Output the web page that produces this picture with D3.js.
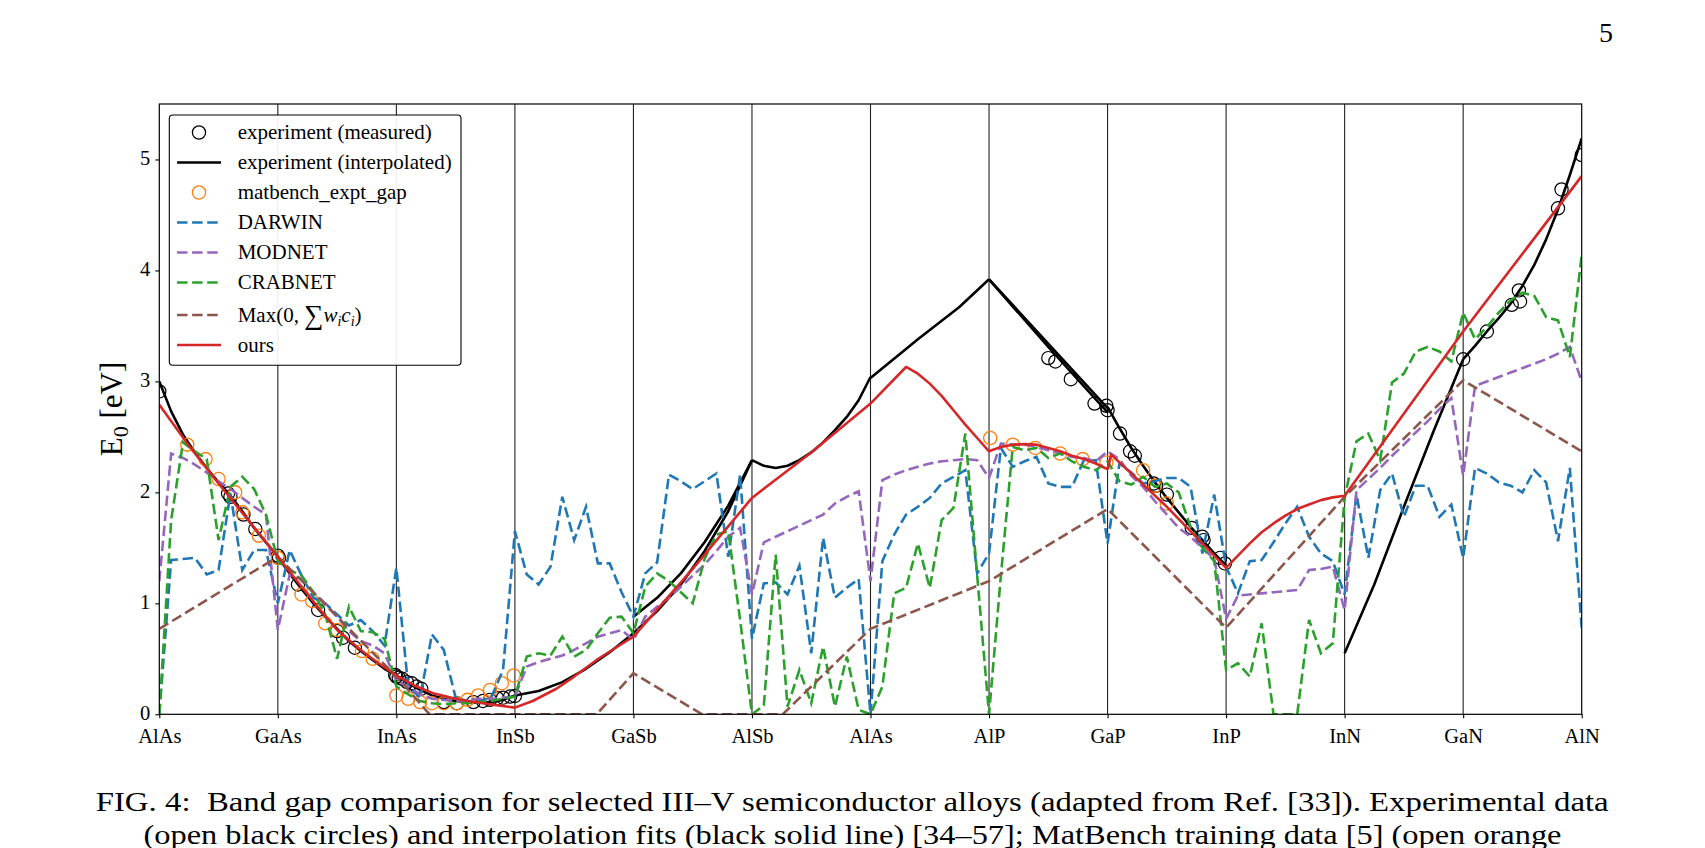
<!DOCTYPE html>
<html>
<head>
<meta charset="utf-8">
<script src="https://cdn.jsdelivr.net/npm/d3@7"></script>
<style>
  body { margin: 0; background: #fff; }
  svg { display: block; font-family: "Liberation Serif", "Times New Roman", serif; }
</style>
</head>
<body>
<svg id="chart" width="1705" height="848"></svg>
<script>
var compounds = ['AlAs', 'GaAs', 'InAs', 'InSb', 'GaSb', 'AlSb', 'AlAs', 'AlP', 'GaP', 'InP', 'InN', 'GaN', 'AlN']
var yTicks = [0, 1, 2, 3, 4, 5]
// model predictions sampled every 0.1 of a composition segment
var step = 0.1
var darwin = [
  0.00, 1.39, 1.40, 1.41, 1.26, 1.30, 1.99, 1.30, 1.48, 1.48,
  1.00, 1.48, 1.25, 1.05, 1.00, 0.90, 0.80, 0.85, 0.75, 0.62,
  1.32, 0.25, 0.15, 0.72, 0.58, 0.15, 0.12, 0.12, 0.15, 0.40,
  1.65, 1.26, 1.17, 1.33, 1.96, 1.57, 1.87, 1.36, 1.36, 1.10,
  0.88, 1.27, 1.37, 2.16, 2.10, 2.03, 2.10, 2.17, 1.42, 2.16,
  0.68, 1.18, 1.19, 1.08, 1.34, 0.55, 1.59, 1.05, 1.14, 1.22,
  0.00, 1.38, 1.62, 1.80, 1.87, 1.95, 2.08, 2.14, 2.20, 1.27,
  1.45, 2.40, 2.23, 2.28, 2.32, 2.08, 2.05, 2.05, 2.29, 2.29,
  1.54, 2.26, 2.18, 2.08, 2.10, 2.13, 2.13, 2.05, 1.45, 1.98,
  1.33, 1.09, 1.38, 1.39, 1.55, 1.72, 1.87, 1.60, 1.45, 1.38,
  1.08, 1.98, 1.41, 2.02, 2.17, 1.78, 2.06, 2.06, 1.78, 1.89,
  1.41, 2.22, 2.17, 2.09, 2.06, 2.00, 2.20, 2.09, 1.56, 2.22,
  0.78
]
var modnet = [
  1.20, 2.35, 2.31, 2.25, 2.18, 2.10, 2.03, 1.95, 1.87, 1.80,
  0.76, 1.26, 1.22, 1.10, 1.00, 0.88, 0.75, 0.66, 0.62, 0.55,
  0.30, 0.25, 0.18, 0.14, 0.13, 0.12, 0.13, 0.14, 0.14, 0.15,
  0.16, 0.43, 0.47, 0.50, 0.53, 0.58, 0.64, 0.70, 0.73, 0.76,
  0.67, 0.88, 0.97, 1.05, 1.15, 1.25, 1.35, 1.47, 1.60, 1.68,
  1.08, 1.55, 1.60, 1.65, 1.70, 1.75, 1.80, 1.90, 1.96, 2.01,
  1.20, 2.11, 2.16, 2.20, 2.23, 2.26, 2.28, 2.29, 2.30, 2.29,
  2.13, 2.44, 2.43, 2.43, 2.41, 2.38, 2.35, 2.32, 2.31, 2.28,
  2.37, 2.30, 2.15, 2.05, 1.92, 1.80, 1.68, 1.60, 1.50, 1.40,
  0.86, 1.07, 1.08, 1.09, 1.10, 1.11, 1.12, 1.30, 1.31, 1.33,
  0.94, 2.02, 2.12, 2.22, 2.33, 2.43, 2.54, 2.64, 2.75, 2.85,
  2.15, 2.96, 3.00, 3.04, 3.08, 3.12, 3.16, 3.20, 3.25, 3.31,
  3.00
]
var crabnet = [
  0.00, 1.75, 2.45, 2.37, 2.30, 1.57, 2.05, 2.14, 2.03, 1.80,
  1.38, 1.30, 1.25, 1.10, 0.90, 0.50, 0.97, 0.75, 0.74, 0.68,
  0.25, 0.18, 0.12, 0.10, 0.09, 0.10, 0.10, 0.11, 0.12, 0.14,
  0.16, 0.52, 0.55, 0.53, 0.70, 0.52, 0.58, 0.73, 0.87, 0.88,
  0.73, 1.15, 1.27, 1.20, 1.10, 1.00, 1.40, 1.62, 1.65, 0.85,
  0.00, 0.08, 1.44, 0.07, 0.40, 0.10, 0.61, 0.07, 0.52, 0.04,
  0.00, 0.25, 1.09, 1.14, 1.54, 1.14, 1.75, 1.86, 2.53, 1.25,
  0.00, 1.25, 2.41, 2.38, 2.40, 2.31, 2.35, 2.28, 2.23, 2.20,
  2.28, 2.10, 2.07, 2.14, 2.05, 2.08, 2.00, 1.69, 1.50, 1.38,
  0.40, 0.46, 0.34, 0.82, 0.00, 0.00, 0.00, 0.85, 0.55, 0.64,
  1.95, 2.46, 2.53, 2.29, 2.99, 3.07, 3.27, 3.31, 3.27, 3.18,
  3.62, 3.38, 3.49, 3.62, 3.73, 3.80, 3.77, 3.58, 3.55, 3.22,
  4.14
]
// Max(0, sum w_i c_i) as [position, eV] vertices
var weighted = [[0, 0.77], [1, 1.42], [2, 0.34], [2.28, 0], [3.69, 0], [4, 0.37], [4.58, 0], [5.26, 0],
  [6, 0.77], [7, 1.20], [8, 1.85], [9, 0.78], [10, 1.96], [11, 3.01], [12, 2.37]]
var ours = [[0, 2.79], [0.25, 2.42], [0.5, 2.08], [0.75, 1.75], [1, 1.42], [1.2, 1.15], [1.35, 0.95], [1.5, 0.76],
  [1.7, 0.58], [1.85, 0.46], [2, 0.35], [2.15, 0.26], [2.31, 0.19], [2.5, 0.14], [2.6, 0.12], [2.83, 0.085],
  [3, 0.06], [3.15, 0.12], [3.35, 0.23], [3.5, 0.34], [3.69, 0.49], [3.85, 0.60], [4, 0.70], [4.5, 1.31],
  [5, 1.95], [5.5, 2.36], [6, 2.80], [6.3, 3.13], [6.4, 3.07], [6.5, 2.98], [6.6, 2.87], [6.7, 2.74],
  [6.8, 2.61], [6.9, 2.49], [7, 2.37],
  [7.1, 2.41], [7.2, 2.43], [7.3, 2.435], [7.4, 2.43], [7.5, 2.40], [7.6, 2.37], [7.7, 2.33], [7.8, 2.30],
  [7.9, 2.26], [8, 2.21], [8.03, 2.34], [8.5, 1.87], [9, 1.32],
  [9.1, 1.43], [9.2, 1.54], [9.3, 1.64], [9.4, 1.72], [9.5, 1.79], [9.6, 1.85], [9.7, 1.89], [9.8, 1.93],
  [9.9, 1.955], [10, 1.97], [11, 3.45], [12, 4.85]]
var expLines = [
  [[0, 3.0], [0.1, 2.73], [0.2, 2.52], [0.3, 2.36], [0.4, 2.22], [0.5, 2.09], [0.6, 1.97], [0.7, 1.83], [0.8, 1.68], [0.9, 1.55], [1, 1.42]],
  [[1, 1.42], [1.1, 1.27], [1.2, 1.13], [1.3, 1.00], [1.4, 0.88], [1.5, 0.77], [1.6, 0.66], [1.7, 0.57], [1.8, 0.49], [1.9, 0.41], [2, 0.35]],
  [[2, 0.35], [2.1, 0.28], [2.2, 0.22], [2.3, 0.17], [2.4, 0.14], [2.5, 0.12], [2.6, 0.11], [2.7, 0.105], [2.8, 0.11], [2.9, 0.13], [3, 0.17]],
  [[3, 0.17], [3.2, 0.21], [3.4, 0.29], [3.6, 0.41], [3.8, 0.56], [4, 0.73]],
  [[4, 0.88], [4.2, 1.05], [4.4, 1.27], [4.6, 1.55], [4.8, 1.88], [5, 2.29]],
  [[4, 0.73], [4.2, 0.93], [4.4, 1.17], [4.6, 1.47], [4.8, 1.83], [5, 2.29]],
  [[5, 2.29], [5.1, 2.24], [5.2, 2.22], [5.3, 2.24], [5.4, 2.29], [5.5, 2.36], [5.6, 2.45], [5.7, 2.56], [5.8, 2.68], [5.9, 2.83], [6, 3.04]],
  [[6, 3.03], [6.4, 3.38], [6.75, 3.67], [7, 3.92]],
  [[7, 3.92], [8, 2.76]],
  [[7, 3.92], [7.5, 3.31], [8, 2.72]],
  [[8, 2.77], [8.1, 2.58], [8.2, 2.40], [8.3, 2.24], [8.4, 2.09], [8.5, 1.95], [8.6, 1.82], [8.7, 1.69], [8.8, 1.57], [8.9, 1.45], [9, 1.34]],
  [[10, 0.55], [10.25, 1.17], [10.5, 1.87], [10.75, 2.55], [11, 3.20]],
  [[11, 3.20], [11.1, 3.32], [11.2, 3.45], [11.3, 3.57], [11.4, 3.70], [11.5, 3.86], [11.6, 4.05], [11.7, 4.28], [11.8, 4.55], [11.9, 4.86], [12, 5.19]]
]
var expMeasured = [[0, 2.91], [0.58, 1.99], [0.6, 1.96], [0.71, 1.80], [0.81, 1.67], [1.0, 1.43], [1.01, 1.41],
  [1.17, 1.17], [1.34, 0.94], [1.50, 0.75], [1.55, 0.69], [1.65, 0.60], [1.99, 0.355], [2.0, 0.34],
  [2.02, 0.33], [2.05, 0.32], [2.09, 0.29], [2.13, 0.28], [2.17, 0.25], [2.21, 0.23], [2.40, 0.11], [2.51, 0.10],
  [2.65, 0.11], [2.73, 0.12], [2.79, 0.13], [2.85, 0.145], [2.9, 0.15], [2.96, 0.16], [3.0, 0.165],
  [7.50, 3.21], [7.56, 3.18], [7.69, 3.02], [7.89, 2.80], [7.99, 2.78], [8.0, 2.74], [8.105, 2.53], [8.19, 2.37],
  [8.23, 2.33], [8.39, 2.08], [8.41, 2.06], [8.50, 1.98], [8.71, 1.68], [8.80, 1.60], [8.81, 1.57], [8.95, 1.41],
  [8.99, 1.36], [11.0, 3.20], [11.2, 3.45], [11.41, 3.69], [11.47, 3.82], [11.48, 3.72], [11.80, 4.56],
  [11.83, 4.73], [12.0, 5.04]]
var matbench = [[0.236, 2.43], [0.39, 2.30], [0.50, 2.12], [0.64, 2.00], [0.70, 1.82], [0.84, 1.61], [1.0, 1.41],
  [1.20, 1.08], [1.29, 1.02], [1.40, 0.82], [1.50, 0.76], [1.71, 0.57], [1.80, 0.50], [2.0, 0.17],
  [2.10, 0.14], [2.2, 0.11], [2.3, 0.10], [2.4, 0.10], [2.51, 0.10], [2.6, 0.13], [2.69, 0.17], [2.79, 0.22],
  [2.89, 0.28], [2.99, 0.35], [7.01, 2.49], [7.20, 2.43], [7.39, 2.40], [7.60, 2.35], [7.79, 2.30], [7.99, 2.27],
  [8.30, 2.20], [8.40, 2.06], [8.50, 1.90]]

var dims = { left: 159.3, right: 1581.7, top: 104, bottom: 714.3 }
var colors = { darwin: '#1f77b4', modnet: '#9467bd', crabnet: '#2ca02c', weighted: '#8c564b', ours: '#d62728', matbench: '#ff7f0e' }
var lw = 2.6
var dash = '10.5 4.6'

var svg = d3.select('#chart')
svg.append('rect').attr('width', 1705).attr('height', 848).attr('fill', '#fff')

svg.append('defs').append('clipPath').attr('id', 'plotclip')
  .append('rect')
  .attr('x', dims.left).attr('y', dims.top)
  .attr('width', dims.right - dims.left).attr('height', dims.bottom - dims.top)

var x = d3.scaleLinear().domain([0, 12]).range([dims.left, dims.right])
var y = d3.scaleLinear().domain([0, 5.5]).range([dims.bottom, dims.top])
var line = d3.line().x(d => x(d[0])).y(d => y(d[1]))

function sampled(vals) {
  return vals.map(function (v, i) { return [i * step, v] })
}

// vertical separators at each compound
svg.append('g').selectAll('line')
  .data(d3.range(1, 12))
  .enter()
  .append('line')
  .attr('x1', d => x(d)).attr('x2', d => x(d))
  .attr('y1', dims.top).attr('y2', dims.bottom)
  .attr('stroke', '#222').attr('stroke-width', 1.1)

var plot = svg.append('g').attr('clip-path', 'url(#plotclip)')

plot.append('g').selectAll('path')
  .data(expLines)
  .enter()
  .append('path')
  .attr('d', line)
  .attr('fill', 'none').attr('stroke', '#000').attr('stroke-width', lw)
  .attr('stroke-linejoin', 'round')

plot.append('g').selectAll('circle')
  .data(expMeasured)
  .enter()
  .append('circle')
  .attr('cx', d => x(d[0])).attr('cy', d => y(d[1])).attr('r', 6.6)
  .attr('fill', 'none').attr('stroke', '#000').attr('stroke-width', 1.2)

plot.append('g').selectAll('circle')
  .data(matbench)
  .enter()
  .append('circle')
  .attr('cx', d => x(d[0])).attr('cy', d => y(d[1])).attr('r', 6.6)
  .attr('fill', 'none').attr('stroke', colors.matbench).attr('stroke-width', 1.3)

var dashed = [
  [sampled(darwin), colors.darwin],
  [sampled(modnet), colors.modnet],
  [sampled(crabnet), colors.crabnet],
  [weighted, colors.weighted]
]
dashed.forEach(function (s) {
  plot.append('path')
    .attr('d', line(s[0]))
    .attr('fill', 'none')
    .attr('stroke', s[1]).attr('stroke-width', lw)
    .attr('stroke-dasharray', dash)
})

plot.append('path')
  .attr('d', line(ours))
  .attr('fill', 'none').attr('stroke', colors.ours).attr('stroke-width', lw)
  .attr('stroke-linejoin', 'round')

// frame
svg.append('rect')
  .attr('x', dims.left).attr('y', dims.top)
  .attr('width', dims.right - dims.left).attr('height', dims.bottom - dims.top)
  .attr('fill', 'none').attr('stroke', '#000').attr('stroke-width', 1.2)

var yAxis = svg.append('g')
  .attr('transform', 'translate(' + dims.left + ',0)')
  .call(d3.axisLeft(y).tickValues(yTicks).tickSize(4).tickPadding(5).tickFormat(d3.format('d')))
var xAxis = svg.append('g')
  .attr('transform', 'translate(0,' + dims.bottom + ')')
  .call(d3.axisBottom(x).tickValues(d3.range(13)).tickSize(4).tickPadding(10).tickFormat(d => compounds[d]))
;[yAxis, xAxis].forEach(function (a) {
  a.select('.domain').remove()
  a.selectAll('line').attr('stroke', '#000').attr('stroke-width', 1.1)
  a.selectAll('text').attr('font-family', '"Liberation Serif", serif').attr('font-size', 20.5).attr('fill', '#000')
})
yAxis.selectAll('text').attr('dy', '0.26em')

// y label
var ylab = svg.append('text')
  .attr('transform', 'translate(122,409) rotate(-90)')
  .attr('text-anchor', 'middle')
  .attr('font-size', 31)
ylab.append('tspan').text('E')
ylab.append('tspan').attr('font-size', 22).attr('dy', 6).text('0')
ylab.append('tspan').attr('dy', -6).text(' [eV]')

// legend
var legend = svg.append('g')
legend.append('rect')
  .attr('x', 169.3).attr('y', 115).attr('width', 291.7).attr('height', 250.3).attr('rx', 3.5)
  .attr('fill', '#fff').attr('fill-opacity', 0.92)
  .attr('stroke', '#000').attr('stroke-width', 1.1)

var legendItems = [
  { label: 'experiment (measured)', kind: 'marker', color: '#000' },
  { label: 'experiment (interpolated)', kind: 'solid', color: '#000' },
  { label: 'matbench_expt_gap', kind: 'marker', color: colors.matbench },
  { label: 'DARWIN', kind: 'dash', color: colors.darwin },
  { label: 'MODNET', kind: 'dash', color: colors.modnet },
  { label: 'CRABNET', kind: 'dash', color: colors.crabnet },
  { label: 'max', kind: 'dash', color: colors.weighted },
  { label: 'ours', kind: 'solid', color: colors.ours }
]
legendItems.forEach(function (item, i) {
  var ry = 132.5 + i * 30 + (i > 5 ? 2.5 : 0)
  var g = legend.append('g').attr('transform', 'translate(0,' + ry + ')')
  if (item.kind === 'marker') {
    g.append('circle').attr('cx', 199).attr('cy', 0).attr('r', 6.6)
      .attr('fill', 'none').attr('stroke', item.color).attr('stroke-width', 1.3)
  } else {
    g.append('line').attr('x1', 177).attr('x2', 221).attr('y1', 0).attr('y2', 0)
      .attr('stroke', item.color).attr('stroke-width', lw)
      .attr('stroke-dasharray', item.kind === 'dash' ? dash : null)
  }
  var t = g.append('text').attr('x', 237.7).attr('y', 6.7).attr('font-size', 21).attr('fill', '#000')
  if (item.label === 'max') {
    t.append('tspan').text('Max(0, ')
    t.append('tspan').attr('font-size', 27).attr('dy', 2).text('\u2211')
    t.append('tspan').attr('font-style', 'italic').attr('dy', -2).text('w')
    t.append('tspan').attr('font-style', 'italic').attr('font-size', 14).attr('dy', 4).text('i')
    t.append('tspan').attr('font-style', 'italic').attr('dy', -4).text('c')
    t.append('tspan').attr('font-style', 'italic').attr('font-size', 14).attr('dy', 4).text('i')
    t.append('tspan').attr('dy', -4).text(')')
  } else {
    t.text(item.label)
  }
})

// page number and caption
svg.append('text').attr('x', 1606).attr('y', 42).attr('text-anchor', 'middle')
  .attr('font-size', 28).text('5')
svg.append('text').attr('x', 95.7).attr('y', 811).attr('font-size', 28)
  .attr('textLength', 1513).attr('lengthAdjust', 'spacingAndGlyphs')
  .style('white-space', 'pre')
  .text('FIG. 4:  Band gap comparison for selected III\u2013V semiconductor alloys (adapted from Ref. [33]). Experimental data')
svg.append('text').attr('x', 143.5).attr('y', 843.5).attr('font-size', 28)
  .attr('textLength', 1418).attr('lengthAdjust', 'spacingAndGlyphs')
  .text('(open black circles) and interpolation fits (black solid line) [34\u201357]; MatBench training data [5] (open orange')
</script>
</body>
</html>
